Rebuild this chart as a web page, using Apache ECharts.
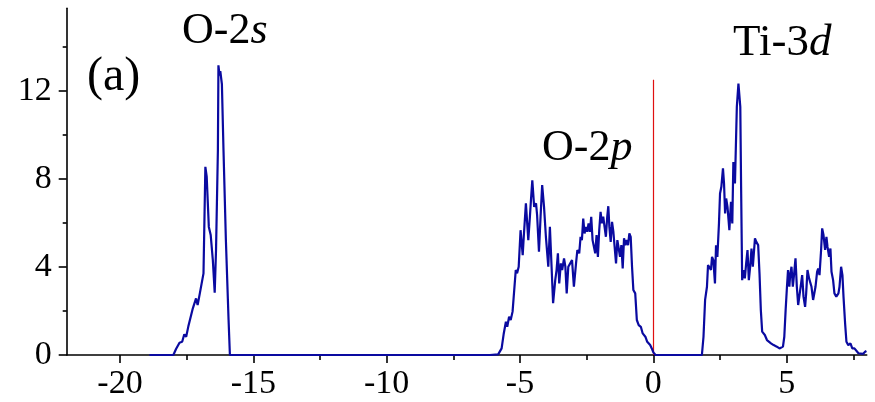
<!DOCTYPE html>
<html>
<head>
<meta charset="utf-8">
<script src="https://cdn.jsdelivr.net/npm/echarts@6/dist/echarts.min.js"></script>
<style>
  html, body { margin: 0; padding: 0; background: #ffffff; }
  #chart { width: 875px; height: 402px; }
</style>
</head>
<body>
<div id="chart"></div>
<script>
// Total density of states, energy in eV relative to the valence band top
const o2sEnergy = [-18.90, -18.00, -17.90, -17.77, -17.67, -17.59, -17.52, -17.44, -17.37, -17.27,
  -17.21, -17.15, -17.09, -17.02, -16.96, -16.87, -16.80, -16.75, -16.67, -16.60, -16.52, -16.45,
  -16.40, -16.33, -16.31, -16.27, -16.24, -16.18, -16.12, -16.03, -15.93, -15.88];
const o2sDos = [0, 0, 0.27, 0.56, 0.60, 0.94, 0.83, 1.29, 1.21, 2.12,
  2.04, 2.57, 2.27, 2.72, 2.65, 3.71, 8.55, 8.10, 5.82, 5.45, 4.31, 2.83,
  4.77, 9.30, 13.16, 12.70, 12.90, 12.30, 9.30, 5.20, 1.60, 0];

const o2pEnergy = [-6.13, -5.82, -5.69, -5.61, -5.53, -5.48, -5.41, -5.35, -5.28, -5.22,
  -5.16, -5.11, -5.05, -4.98, -4.90, -4.86, -4.78, -4.69, -4.63, -4.59, -4.54, -4.47, -4.40,
  -4.36, -4.29, -4.23, -4.17, -4.10, -4.03, -3.94, -3.88, -3.82, -3.76, -3.68, -3.63, -3.58,
  -3.53, -3.47, -3.42, -3.35, -3.30, -3.25, -3.19, -3.13, -3.05, -2.98, -2.90, -2.85, -2.78,
  -2.73, -2.68, -2.63, -2.58, -2.53, -2.48, -2.43, -2.38, -2.33, -2.28, -2.23, -2.18, -2.13,
  -2.08, -2.03, -1.98, -1.93, -1.88, -1.83, -1.78, -1.73, -1.69, -1.65, -1.60, -1.55, -1.50,
  -1.45, -1.40, -1.35, -1.30, -1.25, -1.20, -1.15, -1.10, -1.05, -1.00, -0.95, -0.90, -0.85,
  -0.80, -0.75, -0.68, -0.62, -0.55, -0.47, -0.40, -0.30, -0.23, -0.12, -0.06, 0.00, 0.08];
const o2pDos = [0, 0.03, 0.30, 0.98, 1.51, 1.28, 1.74, 1.59, 1.97, 2.04,
  3.86, 3.71, 4.01, 5.67, 4.54, 5.37, 6.89, 5.22, 6.28, 7.04, 7.94, 6.73, 6.89,
  6.36, 4.69, 6.28, 7.72, 6.73, 5.37, 4.01, 5.82, 4.09, 2.35, 3.40, 3.86, 4.62,
  3.25, 4.16, 3.86, 4.39, 4.01, 2.80, 4.01, 4.09, 4.31, 3.10, 4.16, 4.77, 4.62,
  5.37, 5.22, 6.20, 5.52, 5.82, 5.60, 5.98, 5.60, 6.28, 5.22, 5.30, 4.62, 5.45,
  4.46, 5.67, 6.50, 5.98, 6.28, 5.82, 5.37, 6.28, 6.76, 5.82, 5.14, 6.05, 5.60,
  5.52, 4.16, 5.22, 4.84, 4.46, 4.99, 3.93, 5.30, 4.99, 5.22, 4.99, 5.52, 5.37,
  4.01, 2.95, 2.80, 1.59, 1.36, 1.28, 0.98, 0.83, 0.60, 0.45, 0.30, 0.12, 0];

const ti3dEnergy = [1.82, 1.88, 1.94, 2.01, 2.05, 2.10, 2.16, 2.20, 2.25, 2.31, 2.35, 2.40,
  2.46, 2.50, 2.55, 2.61, 2.65, 2.69, 2.73, 2.78, 2.85, 2.91, 2.96, 3.00, 3.06, 3.13, 3.19,
  3.26, 3.29, 3.33, 3.38, 3.43, 3.48, 3.53, 3.58, 3.63, 3.68, 3.73, 3.81, 3.86, 3.93, 3.98,
  4.03, 4.08, 4.13, 4.18, 4.26, 4.33, 4.41, 4.51, 4.63, 4.73, 4.78, 4.86, 4.91, 4.96, 5.01,
  5.05, 5.10, 5.13, 5.18, 5.23, 5.28, 5.33, 5.38, 5.43, 5.48, 5.54, 5.58, 5.63, 5.69, 5.73,
  5.78, 5.84, 5.88, 5.93, 5.99, 6.03, 6.08, 6.14, 6.18, 6.23, 6.29, 6.33, 6.38, 6.44, 6.49,
  6.53, 6.59, 6.64, 6.68, 6.74, 6.79, 6.86, 6.94, 6.98, 7.04, 7.09, 7.13, 7.19, 7.24, 7.31,
  7.39, 7.46, 7.54, 7.61, 7.69, 7.76, 7.86, 7.94, 7.99];
const ti3dDos = [0, 0.83, 2.50, 3.10, 4.09, 4.01, 3.86, 4.46, 4.31, 3.25, 4.99, 4.46,
  5.98, 7.34, 7.64, 8.48, 7.79, 6.43, 7.11, 6.73, 5.67, 6.96, 5.98, 8.77, 7.79, 11.27, 12.33,
  11.27, 7.64, 3.40, 3.86, 3.48, 4.16, 4.77, 3.40, 4.01, 4.84, 4.01, 5.30, 5.14, 4.99, 3.71,
  2.04, 1.06, 1.13, 0.91, 0.68, 0.71, 0.53, 0.45, 0.38, 0.30, 0.26, 0.38, 0.83, 2.04, 3.10,
  3.86, 3.10, 3.63, 4.01, 3.10, 3.71, 4.39, 3.10, 2.27, 2.35, 3.25, 3.63, 2.65, 2.19, 2.80,
  3.86, 3.48, 3.48, 3.10, 2.50, 2.42, 3.10, 3.78, 3.93, 3.63, 4.77, 5.75, 5.45, 4.77, 5.37,
  4.92, 4.46, 4.84, 3.78, 3.40, 2.80, 2.65, 2.80, 3.10, 4.01, 3.63, 2.65, 1.44, 0.60, 0.45,
  0.53, 0.30, 0.30, 0.23, 0.08, 0.05, 0.05, 0.15, 0.18];

// Axis ticks and labels
const xMajorTicks = [-20, -15, -10, -5, 0, 5];
const xMinorTicks = [-17.5, -12.5, -7.5, -2.5, 2.5, 7.5];
const yMajorTicks = [0, 4, 8, 12];
const yMinorTicks = [2, 6, 10, 14];
const xRange = [-22, 8];
const yRange = [0, 15.75];

// Fermi level marker
const fermiEnergy = 0;
const fermiLineTop = 12.5;

const zip = (xs, ys) => xs.map((x, i) => [x, ys[i]]);
const dosData = [].concat(
  zip(o2sEnergy, o2sDos),
  zip(o2pEnergy, o2pDos),
  zip(ti3dEnergy, ti3dDos)
);

const serif = '"Liberation Serif", "Times New Roman", Times, serif';
const ink = '#000000';

const chart = echarts.init(document.getElementById('chart'), null, { renderer: 'canvas' });

const grid = { left: 66.7, right: 8.3, top: 8.3, bottom: 47, outerBoundsMode: 'none', containLabel: false };

const baseX = {
  type: 'value', min: xRange[0], max: xRange[1], position: 'bottom',
  splitLine: { show: false }
};
const baseY = {
  type: 'value', min: yRange[0], max: yRange[1], position: 'left',
  splitLine: { show: false }
};

chart.setOption({
  animation: false,
  backgroundColor: '#ffffff',
  grid: grid,
  xAxis: [
    Object.assign({}, baseX, {
      axisLine: { show: true, onZero: false, lineStyle: { color: ink, width: 1.6 } },
      axisTick: { show: true, customValues: xMajorTicks, length: 8, lineStyle: { color: ink, width: 1.6 } },
      axisLabel: { show: true, customValues: xMajorTicks, margin: 12, color: ink, fontSize: 34, fontFamily: serif }
    }),
    Object.assign({}, baseX, {
      axisLine: { show: false, onZero: false },
      axisTick: { show: true, customValues: xMinorTicks, length: 5, lineStyle: { color: ink, width: 1.6 } },
      axisLabel: { show: false }
    })
  ],
  yAxis: [
    Object.assign({}, baseY, {
      axisLine: { show: true, onZero: false, lineStyle: { color: ink, width: 1.6 } },
      axisTick: { show: true, customValues: yMajorTicks, length: 8, lineStyle: { color: ink, width: 1.6 } },
      axisLabel: { show: true, customValues: yMajorTicks, margin: 15, color: ink, fontSize: 34, fontFamily: serif }
    }),
    Object.assign({}, baseY, {
      axisLine: { show: false, onZero: false },
      axisTick: { show: true, customValues: yMinorTicks, length: 4, lineStyle: { color: ink, width: 1.6 } },
      axisLabel: { show: false }
    })
  ],
  series: [{
    type: 'line',
    xAxisIndex: 0,
    yAxisIndex: 0,
    data: dosData,
    showSymbol: false,
    clip: false,
    z: 3,
    lineStyle: { color: '#0a0aa0', width: 2.2 },
    markLine: {
      silent: true,
      symbol: 'none',
      z: 2,
      label: { show: false },
      emphasis: { disabled: true },
      lineStyle: { color: '#e01010', width: 1.2, type: 'solid' },
      data: [[{ coord: [fermiEnergy, 0] }, { coord: [fermiEnergy, fermiLineTop] }]]
    }
  }],
  graphic: [
    {
      type: 'text', left: 87, top: 53,
      style: { text: '(a)', font: '48px ' + serif, fill: ink }
    },
    {
      type: 'text', left: 182, top: 9,
      style: {
        text: '{n|O-2}{i|s}',
        rich: {
          n: { font: '44px ' + serif, fill: ink },
          i: { font: 'italic 44px ' + serif, fill: ink }
        }
      }
    },
    {
      type: 'text', left: 542, top: 126,
      style: {
        text: '{n|O-2}{i|p}',
        rich: {
          n: { font: '44px ' + serif, fill: ink },
          i: { font: 'italic 44px ' + serif, fill: ink }
        }
      }
    },
    {
      type: 'text', left: 733, top: 21,
      style: {
        text: '{n|Ti-3}{i|d}',
        rich: {
          n: { font: '45px ' + serif, fill: ink },
          i: { font: 'italic 45px ' + serif, fill: ink }
        }
      }
    }
  ]
});
</script>
</body>
</html>
